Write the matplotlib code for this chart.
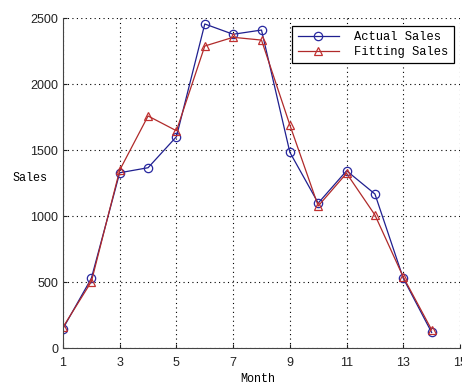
import matplotlib
matplotlib.use('Agg')
import matplotlib.pyplot as plt

months = list(range(1, 15))
actual_sales = [150, 530, 1330, 1368, 1603, 2457, 2379, 2411, 1485, 1100, 1345, 1169, 530, 120]
fitting_sales = [160, 505, 1350, 1760, 1648, 2290, 2356, 2335, 1692, 1078, 1326, 1010, 540, 140]
xticks = [1, 3, 5, 7, 9, 11, 13, 15]
yticks = [0, 500, 1000, 1500, 2000, 2500]

MONO = 'Liberation Mono'
SANS = 'Liberation Sans'

fig = plt.figure(figsize=(4.62, 3.85), dpi=100)
ax = fig.add_axes([63/462, 1 - 348.3/385, 397/462, 330/385])

ax.plot(months, actual_sales, color='#1f1f8f', lw=0.9, marker='o', ms=6,
        mfc='none', mec='#2828a0', mew=0.9, label='Actual Sales')
ax.plot(months, fitting_sales, color='#b02a2a', lw=0.9, marker='^', ms=6,
        mfc='none', mec='#c03030', mew=0.9, label='Fitting Sales')

ax.set_xlim(1, 15)
ax.set_ylim(0, 2500)
ax.set_xticks(xticks)
ax.set_yticks(yticks)
ax.tick_params(direction='in', length=3, labelsize=9, colors='#222222')
ax.tick_params(axis='x', pad=6)
for lab in ax.get_xticklabels() + ax.get_yticklabels():
    lab.set_family(SANS)
ax.grid(True, linestyle=(0, (1, 3)), color='black', lw=0.8)
ax.spines['top'].set_visible(False)
ax.spines['right'].set_visible(False)
ax.spines['left'].set_color('#444444')
ax.spines['bottom'].set_color('#444444')

ax.set_xlabel('Month', family=MONO, fontsize=8.5)
ax.xaxis.set_label_coords(0.49, -0.075)
ax.set_ylabel('Sales', family=MONO, fontsize=8.5, rotation=0, va='center', ha='center')
ax.yaxis.set_label_coords(-0.083, 0.516)

leg = ax.legend(loc='upper right', bbox_to_anchor=(0.985, 0.978), borderaxespad=0,
                prop={'family': MONO, 'size': 8.7}, fancybox=False, framealpha=1,
                edgecolor='black', handlelength=3.4, handletextpad=1.3,
                labelspacing=0.25, borderpad=0.45)
leg.get_frame().set_linewidth(0.9)

fig.savefig('out.png', dpi=100)
